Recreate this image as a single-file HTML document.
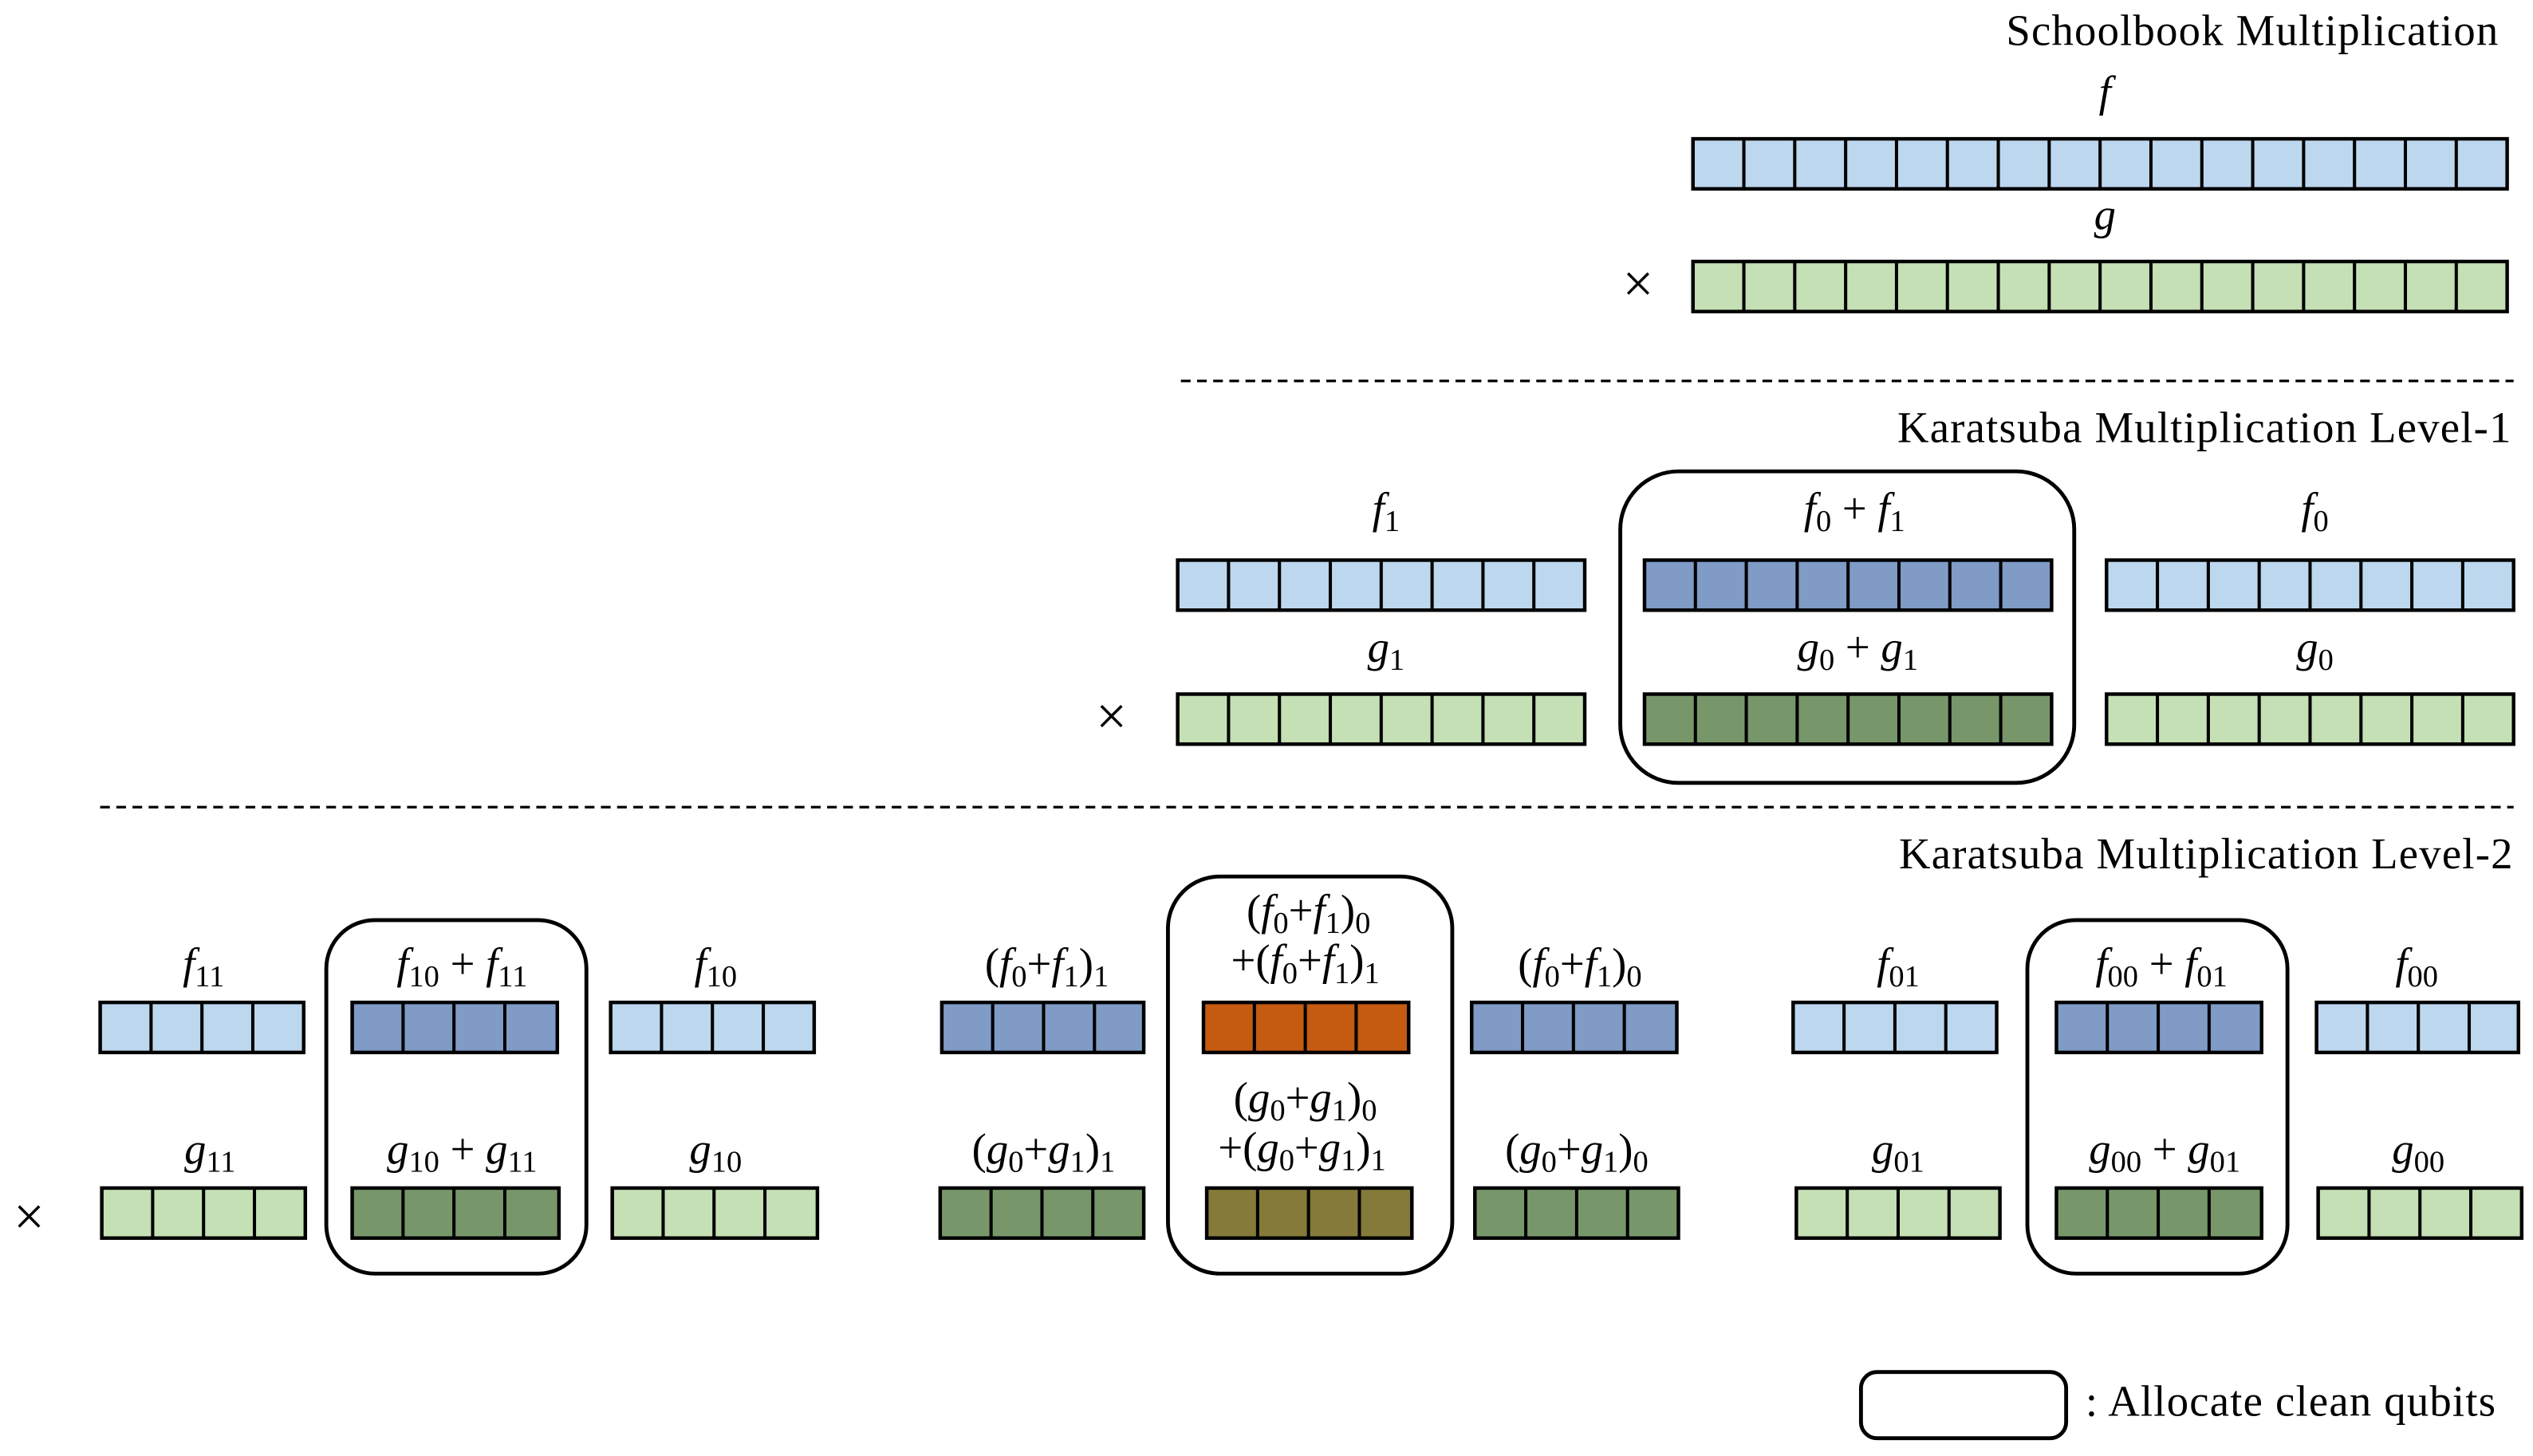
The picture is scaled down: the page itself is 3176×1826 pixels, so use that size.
<!DOCTYPE html>
<html><head><meta charset="utf-8"><style>
html,body{margin:0;padding:0;background:#fff;}
svg{display:block;}
text{font-family:"Liberation Serif",serif;font-size:27px;fill:#000;}
.t{letter-spacing:0.6px;}
.i{font-style:italic;}
.s{font-size:19px;}
.x{font-size:34px;}
</style></head><body>
<svg width="3176" height="1826" viewBox="0 0 1568 902" preserveAspectRatio="none" xmlns="http://www.w3.org/2000/svg">
<defs>
<style>
.bar{stroke:#000;stroke-width:2.2;}
.div{stroke:#000;stroke-width:31;stroke-dasharray:2 29.5;stroke-dashoffset:-30.5;}
.box{fill:none;stroke:#000;stroke-width:2.4;}
</style>
</defs>

<!-- Schoolbook -->
<text x="1547" y="28" text-anchor="end" class="t">Schoolbook Multiplication</text>
<text x="1303" y="66" text-anchor="middle" class="i">f</text>
<rect class="bar" x="1048" y="86" width="504" height="31" fill="#bdd7ee"/>
<line class="div" x1="1048" y1="101.5" x2="1549" y2="101.5"/>
<text x="1303" y="142" text-anchor="middle" class="i">g</text>
<text x="1014" y="187" text-anchor="middle" class="x">×</text>
<rect class="bar" x="1048" y="162" width="504" height="31" fill="#c5e0b4"/>
<line class="div" x1="1048" y1="177.5" x2="1549" y2="177.5"/>

<line x1="731" y1="236" x2="1556" y2="236" stroke="#000" stroke-width="1.6" stroke-dasharray="6 4"/>

<!-- Level 1 -->
<text x="1555" y="274" text-anchor="end" class="t">Karatsuba Multiplication Level-1</text>
<rect class="box" x="1003" y="292" width="281" height="193" rx="36"/>

<text x="858" y="324" text-anchor="middle"><tspan class="i">f</tspan><tspan class="s" dy="5">1</tspan></text>
<rect class="bar" x="729" y="347" width="252" height="31" fill="#bdd7ee"/>
<line class="div" x1="729" y1="362.5" x2="978" y2="362.5"/>
<text x="858" y="410" text-anchor="middle"><tspan class="i">g</tspan><tspan class="s" dy="5">1</tspan></text>
<text x="688" y="455" text-anchor="middle" class="x">×</text>
<rect class="bar" x="729" y="430" width="252" height="31" fill="#c5e0b4"/>
<line class="div" x1="729" y1="445.5" x2="978" y2="445.5"/>

<text x="1148" y="324" text-anchor="middle"><tspan class="i">f</tspan><tspan class="s" dy="5">0</tspan><tspan dy="-5"> + </tspan><tspan class="i">f</tspan><tspan class="s" dy="5">1</tspan></text>
<rect class="bar" x="1018" y="347" width="252" height="31" fill="#7f9bc6"/>
<line class="div" x1="1018" y1="362.5" x2="1267" y2="362.5"/>
<text x="1150" y="410" text-anchor="middle"><tspan class="i">g</tspan><tspan class="s" dy="5">0</tspan><tspan dy="-5"> + </tspan><tspan class="i">g</tspan><tspan class="s" dy="5">1</tspan></text>
<rect class="bar" x="1018" y="430" width="252" height="31" fill="#77976a"/>
<line class="div" x1="1018" y1="445.5" x2="1267" y2="445.5"/>

<text x="1433" y="324" text-anchor="middle"><tspan class="i">f</tspan><tspan class="s" dy="5">0</tspan></text>
<rect class="bar" x="1304" y="347" width="252" height="31" fill="#bdd7ee"/>
<line class="div" x1="1304" y1="362.5" x2="1553" y2="362.5"/>
<text x="1433" y="410" text-anchor="middle"><tspan class="i">g</tspan><tspan class="s" dy="5">0</tspan></text>
<rect class="bar" x="1304" y="430" width="252" height="31" fill="#c5e0b4"/>
<line class="div" x1="1304" y1="445.5" x2="1553" y2="445.5"/>

<line x1="62" y1="500" x2="1556" y2="500" stroke="#000" stroke-width="1.6" stroke-dasharray="6 4"/>

<!-- Level 2 -->
<text x="1556" y="538" text-anchor="end" class="t">Karatsuba Multiplication Level-2</text>
<text x="18" y="765" text-anchor="middle" class="x">×</text>

<!-- group 1 -->
<rect class="box" x="202" y="570" width="161" height="219" rx="30"/>
<text x="126" y="606" text-anchor="middle"><tspan class="i">f</tspan><tspan class="s" dy="5">11</tspan></text>
<rect class="bar" x="62" y="621" width="126" height="31" fill="#bdd7ee"/>
<line class="div" x1="62" y1="636.5" x2="185" y2="636.5"/>
<text x="130" y="721" text-anchor="middle"><tspan class="i">g</tspan><tspan class="s" dy="5">11</tspan></text>
<rect class="bar" x="63" y="736" width="126" height="31" fill="#c5e0b4"/>
<line class="div" x1="63" y1="751.5" x2="186" y2="751.5"/>

<text x="286" y="606" text-anchor="middle"><tspan class="i">f</tspan><tspan class="s" dy="5">10</tspan><tspan dy="-5"> + </tspan><tspan class="i">f</tspan><tspan class="s" dy="5">11</tspan></text>
<rect class="bar" x="218" y="621" width="127" height="31" fill="#7f9bc6"/>
<line class="div" x1="218" y1="636.5" x2="342" y2="636.5"/>
<text x="286" y="721" text-anchor="middle"><tspan class="i">g</tspan><tspan class="s" dy="5">10</tspan><tspan dy="-5"> + </tspan><tspan class="i">g</tspan><tspan class="s" dy="5">11</tspan></text>
<rect class="bar" x="218" y="736" width="128" height="31" fill="#77976a"/>
<line class="div" x1="218" y1="751.5" x2="342" y2="751.5"/>

<text x="443" y="606" text-anchor="middle"><tspan class="i">f</tspan><tspan class="s" dy="5">10</tspan></text>
<rect class="bar" x="378" y="621" width="126" height="31" fill="#bdd7ee"/>
<line class="div" x1="378" y1="636.5" x2="501" y2="636.5"/>
<text x="443" y="721" text-anchor="middle"><tspan class="i">g</tspan><tspan class="s" dy="5">10</tspan></text>
<rect class="bar" x="379" y="736" width="127" height="31" fill="#c5e0b4"/>
<line class="div" x1="379" y1="751.5" x2="502" y2="751.5"/>

<!-- group 2 -->
<rect class="box" x="723" y="543" width="176" height="246" rx="32"/>
<text x="648" y="606" text-anchor="middle">(<tspan class="i">f</tspan><tspan class="s" dy="5">0</tspan><tspan dy="-5">+</tspan><tspan class="i">f</tspan><tspan class="s" dy="5">1</tspan><tspan dy="-5">)</tspan><tspan class="s" dy="5">1</tspan></text>
<rect class="bar" x="583" y="621" width="125" height="31" fill="#7f9bc6"/>
<line class="div" x1="583" y1="636.5" x2="705" y2="636.5"/>
<text x="646" y="721" text-anchor="middle">(<tspan class="i">g</tspan><tspan class="s" dy="5">0</tspan><tspan dy="-5">+</tspan><tspan class="i">g</tspan><tspan class="s" dy="5">1</tspan><tspan dy="-5">)</tspan><tspan class="s" dy="5">1</tspan></text>
<rect class="bar" x="582" y="736" width="126" height="31" fill="#77976a"/>
<line class="div" x1="582" y1="751.5" x2="705" y2="751.5"/>

<text x="810" y="573" text-anchor="middle">(<tspan class="i">f</tspan><tspan class="s" dy="5">0</tspan><tspan dy="-5">+</tspan><tspan class="i">f</tspan><tspan class="s" dy="5">1</tspan><tspan dy="-5">)</tspan><tspan class="s" dy="5">0</tspan></text>
<text x="808" y="604" text-anchor="middle">+(<tspan class="i">f</tspan><tspan class="s" dy="5">0</tspan><tspan dy="-5">+</tspan><tspan class="i">f</tspan><tspan class="s" dy="5">1</tspan><tspan dy="-5">)</tspan><tspan class="s" dy="5">1</tspan></text>
<rect class="bar" x="745" y="621" width="127" height="31" fill="#c55a11"/>
<line class="div" x1="745" y1="636.5" x2="869" y2="636.5"/>
<text x="808" y="689" text-anchor="middle">(<tspan class="i">g</tspan><tspan class="s" dy="5">0</tspan><tspan dy="-5">+</tspan><tspan class="i">g</tspan><tspan class="s" dy="5">1</tspan><tspan dy="-5">)</tspan><tspan class="s" dy="5">0</tspan></text>
<text x="806" y="720" text-anchor="middle">+(<tspan class="i">g</tspan><tspan class="s" dy="5">0</tspan><tspan dy="-5">+</tspan><tspan class="i">g</tspan><tspan class="s" dy="5">1</tspan><tspan dy="-5">)</tspan><tspan class="s" dy="5">1</tspan></text>
<rect class="bar" x="747" y="736" width="127" height="31" fill="#857a3a"/>
<line class="div" x1="747" y1="751.5" x2="871" y2="751.5"/>

<text x="978" y="606" text-anchor="middle">(<tspan class="i">f</tspan><tspan class="s" dy="5">0</tspan><tspan dy="-5">+</tspan><tspan class="i">f</tspan><tspan class="s" dy="5">1</tspan><tspan dy="-5">)</tspan><tspan class="s" dy="5">0</tspan></text>
<rect class="bar" x="911" y="621" width="127" height="31" fill="#7f9bc6"/>
<line class="div" x1="911" y1="636.5" x2="1035" y2="636.5"/>
<text x="976" y="721" text-anchor="middle">(<tspan class="i">g</tspan><tspan class="s" dy="5">0</tspan><tspan dy="-5">+</tspan><tspan class="i">g</tspan><tspan class="s" dy="5">1</tspan><tspan dy="-5">)</tspan><tspan class="s" dy="5">0</tspan></text>
<rect class="bar" x="913" y="736" width="126" height="31" fill="#77976a"/>
<line class="div" x1="913" y1="751.5" x2="1036" y2="751.5"/>

<!-- group 3 -->
<rect class="box" x="1255" y="570" width="161" height="219" rx="30"/>
<text x="1175" y="606" text-anchor="middle"><tspan class="i">f</tspan><tspan class="s" dy="5">01</tspan></text>
<rect class="bar" x="1110" y="621" width="126" height="31" fill="#bdd7ee"/>
<line class="div" x1="1110" y1="636.5" x2="1233" y2="636.5"/>
<text x="1175" y="721" text-anchor="middle"><tspan class="i">g</tspan><tspan class="s" dy="5">01</tspan></text>
<rect class="bar" x="1112" y="736" width="126" height="31" fill="#c5e0b4"/>
<line class="div" x1="1112" y1="751.5" x2="1235" y2="751.5"/>

<text x="1338" y="606" text-anchor="middle"><tspan class="i">f</tspan><tspan class="s" dy="5">00</tspan><tspan dy="-5"> + </tspan><tspan class="i">f</tspan><tspan class="s" dy="5">01</tspan></text>
<rect class="bar" x="1273" y="621" width="127" height="31" fill="#7f9bc6"/>
<line class="div" x1="1273" y1="636.5" x2="1397" y2="636.5"/>
<text x="1340" y="721" text-anchor="middle"><tspan class="i">g</tspan><tspan class="s" dy="5">00</tspan><tspan dy="-5"> + </tspan><tspan class="i">g</tspan><tspan class="s" dy="5">01</tspan></text>
<rect class="bar" x="1273" y="736" width="127" height="31" fill="#77976a"/>
<line class="div" x1="1273" y1="751.5" x2="1397" y2="751.5"/>

<text x="1496" y="606" text-anchor="middle"><tspan class="i">f</tspan><tspan class="s" dy="5">00</tspan></text>
<rect class="bar" x="1434" y="621" width="125" height="31" fill="#bdd7ee"/>
<line class="div" x1="1434" y1="636.5" x2="1556" y2="636.5"/>
<text x="1497" y="721" text-anchor="middle"><tspan class="i">g</tspan><tspan class="s" dy="5">00</tspan></text>
<rect class="bar" x="1435" y="736" width="126" height="31" fill="#c5e0b4"/>
<line class="div" x1="1435" y1="751.5" x2="1558" y2="751.5"/>

<!-- legend -->
<rect class="box" x="1152" y="850" width="127" height="41" rx="10"/>
<text x="1291" y="877" class="t">: Allocate clean qubits</text>
</svg>
</body></html>
